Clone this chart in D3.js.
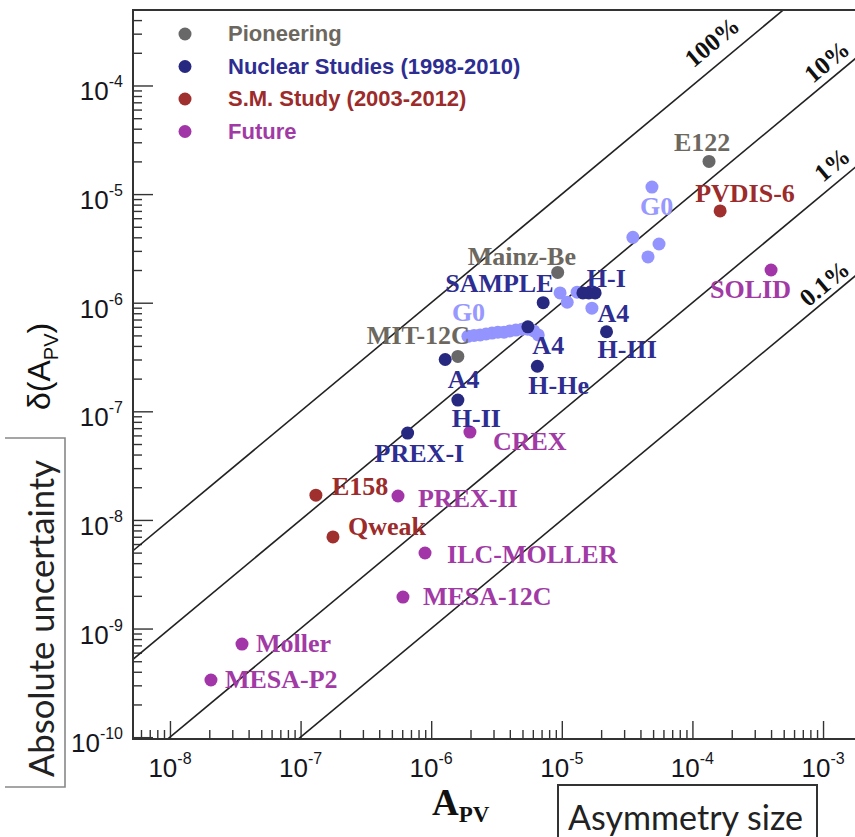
<!DOCTYPE html>
<html>
<head>
<meta charset="utf-8">
<script src="https://cdn.jsdelivr.net/npm/d3@7"></script>
<style>
  body { margin: 0; background: #fff; }
</style>
</head>
<body>
<script>
// ---- data ----
const legendItems = ["Pioneering", "Nuclear Studies (1998-2010)", "S.M. Study (2003-2012)", "Future"];

// [A_PV, delta(A_PV)]
const pioneering = [[1.34e-4, 2.0e-5], [9.3e-6, 1.9e-6], [1.6e-6, 3.2e-7]];
const nuclear = [
  [7.2e-6, 1.0e-6], [1.45e-5, 1.23e-6], [1.61e-5, 1.23e-6], [1.80e-5, 1.23e-6],
  [5.5e-6, 6.0e-7], [2.2e-5, 5.4e-7], [6.5e-6, 2.6e-7], [1.28e-6, 3.0e-7],
  [1.6e-6, 1.27e-7], [6.6e-7, 6.3e-8]
];
const g0 = [
  [1.91e-6, 4.9e-7], [2.13e-6, 5.0e-7], [2.37e-6, 5.05e-7], [2.63e-6, 5.15e-7],
  [2.92e-6, 5.25e-7], [3.24e-6, 5.35e-7], [3.61e-6, 5.35e-7], [4.0e-6, 5.5e-7],
  [4.45e-6, 5.6e-7], [4.95e-6, 5.7e-7], [5.5e-6, 5.7e-7], [6.1e-6, 5.5e-7], [6.6e-6, 5.05e-7],
  [9.7e-6, 1.23e-6], [1.1e-5, 1.01e-6], [1.31e-5, 1.25e-6], [1.7e-5, 8.9e-7],
  [4.9e-5, 1.16e-5], [3.5e-5, 4.0e-6], [5.55e-5, 3.47e-6], [4.57e-5, 2.64e-6]
];
const smStudy = [[1.63e-4, 7.0e-6], [1.31e-7, 1.69e-8], [1.77e-7, 6.97e-9]];
const future = [
  [4.0e-4, 2.0e-6], [1.98e-6, 6.44e-8], [5.57e-7, 1.66e-8], [8.97e-7, 4.96e-9],
  [6.08e-7, 1.95e-9], [3.56e-8, 7.2e-10], [2.06e-8, 3.36e-10]
];

// labels: key, text, series, anchor point [A, delta]
const labels = [
  ["e122", "E122", "pioneering", [1.34e-4, 2.0e-5]],
  ["mainz", "Mainz-Be", "pioneering", [9.3e-6, 1.9e-6]],
  ["mit", "MIT-12C", "pioneering", [1.6e-6, 3.2e-7]],
  ["sample", "SAMPLE", "nuclear", [7.2e-6, 1.0e-6]],
  ["hi", "H-I", "nuclear", [1.61e-5, 1.23e-6]],
  ["a4r", "A4", "nuclear", [2.2e-5, 5.4e-7]],
  ["hiii", "H-III", "nuclear", [2.2e-5, 5.4e-7]],
  ["a4m", "A4", "nuclear", [6.5e-6, 2.6e-7]],
  ["hhe", "H-He", "nuclear", [6.5e-6, 2.6e-7]],
  ["a4l", "A4", "nuclear", [1.6e-6, 1.27e-7]],
  ["hii", "H-II", "nuclear", [1.6e-6, 1.27e-7]],
  ["prex1", "PREX-I", "nuclear", [6.6e-7, 6.3e-8]],
  ["g0u", "G0", "g0", [4.9e-5, 1.16e-5]],
  ["g0l", "G0", "g0", [1.91e-6, 4.9e-7]],
  ["pvdis", "PVDIS-6", "sm", [1.63e-4, 7.0e-6]],
  ["e158", "E158", "sm", [1.31e-7, 1.69e-8]],
  ["qweak", "Qweak", "sm", [1.77e-7, 6.97e-9]],
  ["solid", "SOLID", "future", [4.0e-4, 2.0e-6]],
  ["crex", "CREX", "future", [1.98e-6, 6.44e-8]],
  ["prex2", "PREX-II", "future", [5.57e-7, 1.66e-8]],
  ["ilc", "ILC-MOLLER", "future", [8.97e-7, 4.96e-9]],
  ["mesa12", "MESA-12C", "future", [6.08e-7, 1.95e-9]],
  ["moller", "Moller", "future", [3.56e-8, 7.2e-10]],
  ["mesap2", "MESA-P2", "future", [2.06e-8, 3.36e-10]]
];

// relative precision lines: delta = ratio * A
const ratios = [1, 0.1, 0.01, 0.001];
const ratioLabels = ["100%", "10%", "1%", "0.1%"];
const ratioLabelAt = [1.79e-4, 1.28e-3, 1.42e-3, 1.2e-3];

const xTicks = [1e-8, 1e-7, 1e-6, 1e-5, 1e-4, 1e-3];
const yTicks = [1e-10, 1e-9, 1e-8, 1e-7, 1e-6, 1e-5, 1e-4];

// ---- layout / styles ----
const width = 855, height = 837;
const frame = {left: 133, top: 10, right: 860, bottom: 739};

const colors = {
  pioneering: {dot: "#686868", text: "#6c6860"},
  nuclear: {dot: "#27287f", text: "#2d2d92"},
  g0: {dot: "#9494ff", text: "#9898ff"},
  sm: {dot: "#a0302e", text: "#9c2b2b"},
  future: {dot: "#a236a8", text: "#a23aa6"}
};
const legendColors = [colors.pioneering, colors.nuclear, colors.sm, colors.future];

// label offsets in px (dx, dy of baseline-left from the dot)
const labelOffset = {
  e122: [-35, -10], mainz: [-90, -7], mit: [-91, -12], sample: [-98, -11],
  hi: [-2, -6], a4r: [-9, -10], hiii: [-9, 26], a4m: [-5, -12], hhe: [-9, 28],
  a4l: [-10, -12], hii: [-6, 27], prex1: [-33, 29], g0u: [-12, 28], g0l: [-16, -15],
  pvdis: [-25, -9], e158: [16, 0], qweak: [15, -2], solid: [-61, 28], crex: [23, 18],
  prex2: [20, 11], ilc: [22, 10], mesa12: [20, 8], moller: [14, 8], mesap2: [14, 8]
};
const ratioLabelGap = [21, 16, 17, 14];

const x = d3.scaleLog().domain([10 ** -8.283, 10 ** -2.717]).range([frame.left, frame.right]);
const y = d3.scaleLog().domain([10 ** -10.017, 10 ** -3.305]).range([frame.bottom, frame.top]);

const svg = d3.select("body").append("svg")
  .attr("width", width)
  .attr("height", height)
  .attr("viewBox", [0, 0, width, height]);

svg.append("defs").append("clipPath").attr("id", "plot-clip")
  .append("rect")
  .attr("x", frame.left).attr("y", frame.top)
  .attr("width", frame.right - frame.left).attr("height", frame.bottom - frame.top);

// minor ticks
function minorTicks(scale) {
  const [a, b] = scale.domain();
  const out = [];
  for (let e = Math.floor(Math.log10(a)); e <= Math.ceil(Math.log10(b)); e++) {
    for (let m = 2; m <= 9; m++) {
      const v = m * 10 ** e;
      if (v > a && v < b) out.push(v);
    }
  }
  return out;
}

const axisColor = "#333";

// x axis (ticks drawn inside)
const gx = svg.append("g").attr("transform", `translate(0,${frame.bottom})`);
gx.append("g").call(d3.axisBottom(x).tickValues(minorTicks(x)).tickSize(-9).tickFormat(""));
gx.append("g").call(d3.axisBottom(x).tickValues(xTicks).tickSize(-18).tickFormat(""));
gx.selectAll(".domain").remove();
gx.selectAll("line").attr("stroke", axisColor).attr("stroke-width", 1.4);

const gy = svg.append("g").attr("transform", `translate(${frame.left},0)`);
gy.append("g").call(d3.axisLeft(y).tickValues(minorTicks(y)).tickSize(-9).tickFormat(""));
gy.append("g").call(d3.axisLeft(y).tickValues(yTicks).tickSize(-20).tickFormat(""));
gy.selectAll(".domain").remove();
gy.selectAll("line").attr("stroke", axisColor).attr("stroke-width", 1.4);

// tick labels with superscript exponents
function powerLabel(sel, v) {
  const e = Math.round(Math.log10(v));
  sel.append("tspan").text("10");
  sel.append("tspan").attr("font-size", 16).attr("dy", -13).text(String(e));
}

svg.append("g")
  .selectAll("text")
  .data(xTicks)
  .join("text")
  .attr("x", d => x(d))
  .attr("y", frame.bottom + 38)
  .attr("text-anchor", "middle")
  .attr("font-family", "Liberation Sans, Arial, sans-serif")
  .attr("font-size", 26)
  .attr("fill", "#151520")
  .each(function(d) { powerLabel(d3.select(this), d); });

svg.append("g")
  .selectAll("text")
  .data(yTicks)
  .join("text")
  .attr("x", 123)
  .attr("y", d => y(d) + 15)
  .attr("text-anchor", "end")
  .attr("font-family", "Liberation Sans, Arial, sans-serif")
  .attr("font-size", 26)
  .attr("fill", "#151520")
  .each(function(d) { powerLabel(d3.select(this), d); });

// precision lines
const plotArea = svg.append("g").attr("clip-path", "url(#plot-clip)");
const line = d3.line().x(d => x(d[0])).y(d => y(d[1]));
plotArea.selectAll("path.ratio")
  .data(ratios)
  .join("path")
  .attr("class", "ratio")
  .attr("fill", "none")
  .attr("stroke", "#222")
  .attr("stroke-width", 1.6)
  .attr("d", r => line(x.domain().map(a => [a, a * r])));

// angle of the lines on screen
const angle = Math.atan2(y(1e-6) - y(1e-5), x(1e-5) - x(1e-6)) * -1;
const angleDeg = angle * 180 / Math.PI;

svg.append("g")
  .selectAll("text")
  .data(ratios)
  .join("text")
  .attr("transform", (r, i) => {
    const px = x(ratioLabelAt[i]), py = y(ratioLabelAt[i] * r);
    const g = ratioLabelGap[i];
    const cx = px + g * Math.sin(angle), cy = py - g * Math.cos(angle);
    return `translate(${cx},${cy}) rotate(${angleDeg})`;
  })
  .attr("text-anchor", "middle")
  .attr("dominant-baseline", "central")
  .attr("font-family", "Liberation Serif, Times New Roman, serif")
  .attr("font-weight", "bold")
  .attr("font-size", 25)
  .attr("fill", "#111")
  .text((r, i) => ratioLabels[i]);

// points
const dotR = 6.5;
const seriesOrder = [["g0", g0], ["nuclear", nuclear], ["pioneering", pioneering], ["sm", smStudy], ["future", future]];
seriesOrder.forEach(([key, pts]) => {
  svg.append("g")
    .selectAll("circle")
    .data(pts)
    .join("circle")
    .attr("cx", d => x(d[0]))
    .attr("cy", d => y(d[1]))
    .attr("r", dotR)
    .attr("fill", colors[key].dot);
});

// point labels
svg.append("g")
  .selectAll("text")
  .data(labels)
  .join("text")
  .attr("x", d => x(d[3][0]) + labelOffset[d[0]][0])
  .attr("y", d => y(d[3][1]) + labelOffset[d[0]][1])
  .attr("font-family", "Liberation Serif, Times New Roman, serif")
  .attr("font-weight", "bold")
  .attr("font-size", 26)
  .attr("fill", d => colors[d[2]].text)
  .text(d => d[1]);

// legend
const legend = svg.append("g");
legendItems.forEach((name, i) => {
  const ly = 34 + i * 32.5;
  legend.append("circle").attr("cx", 185).attr("cy", ly).attr("r", 6.5).attr("fill", legendColors[i].dot);
  legend.append("text")
    .attr("x", 228).attr("y", ly + 7)
    .attr("font-family", "Liberation Sans, Arial, sans-serif")
    .attr("font-weight", "bold")
    .attr("font-size", 22)
    .attr("fill", legendColors[i].text)
    .text(name);
});

// frame
svg.append("rect")
  .attr("x", frame.left).attr("y", frame.top)
  .attr("width", frame.right - frame.left).attr("height", frame.bottom - frame.top)
  .attr("fill", "none").attr("stroke", axisColor).attr("stroke-width", 2);

// axis titles
const xt = svg.append("text")
  .attr("x", 432).attr("y", 815)
  .attr("font-family", "Liberation Serif, Times New Roman, serif")
  .attr("font-weight", "bold")
  .attr("font-size", 37)
  .attr("fill", "#111");
xt.append("tspan").text("A");
xt.append("tspan").attr("font-size", 23).attr("dy", 7).text("PV");

const yt = svg.append("text")
  .attr("transform", "translate(50,410) rotate(-90)")
  .attr("font-family", "Liberation Sans, Arial, sans-serif")
  .attr("font-size", 32)
  .attr("fill", "#111");
yt.append("tspan").text("\u03b4(A");
yt.append("tspan").attr("font-size", 20).attr("dy", 8).text("PV");
yt.append("tspan").attr("dy", -8).text(")");

// boxed captions
svg.append("path")
  .attr("d", "M5,438H65V787H5")
  .attr("fill", "none").attr("stroke", "#888").attr("stroke-width", 1.6);
svg.append("text")
  .attr("transform", "translate(54,777) rotate(-90)")
  .attr("font-family", "Lato, Open Sans, sans-serif")
  .attr("font-size", 34)
  .attr("fill", "#222")
  .attr("textLength", 317)
  .attr("lengthAdjust", "spacingAndGlyphs")
  .text("Absolute uncertainty");

svg.append("rect")
  .attr("x", 558).attr("y", 785).attr("width", 259).attr("height", 70)
  .attr("fill", "none").attr("stroke", "#333").attr("stroke-width", 2);
svg.append("text")
  .attr("x", 568).attr("y", 830)
  .attr("font-family", "Lato, Open Sans, sans-serif")
  .attr("font-size", 34)
  .attr("fill", "#222")
  .attr("textLength", 235)
  .attr("lengthAdjust", "spacingAndGlyphs")
  .text("Asymmetry size");
</script>
</body>
</html>
